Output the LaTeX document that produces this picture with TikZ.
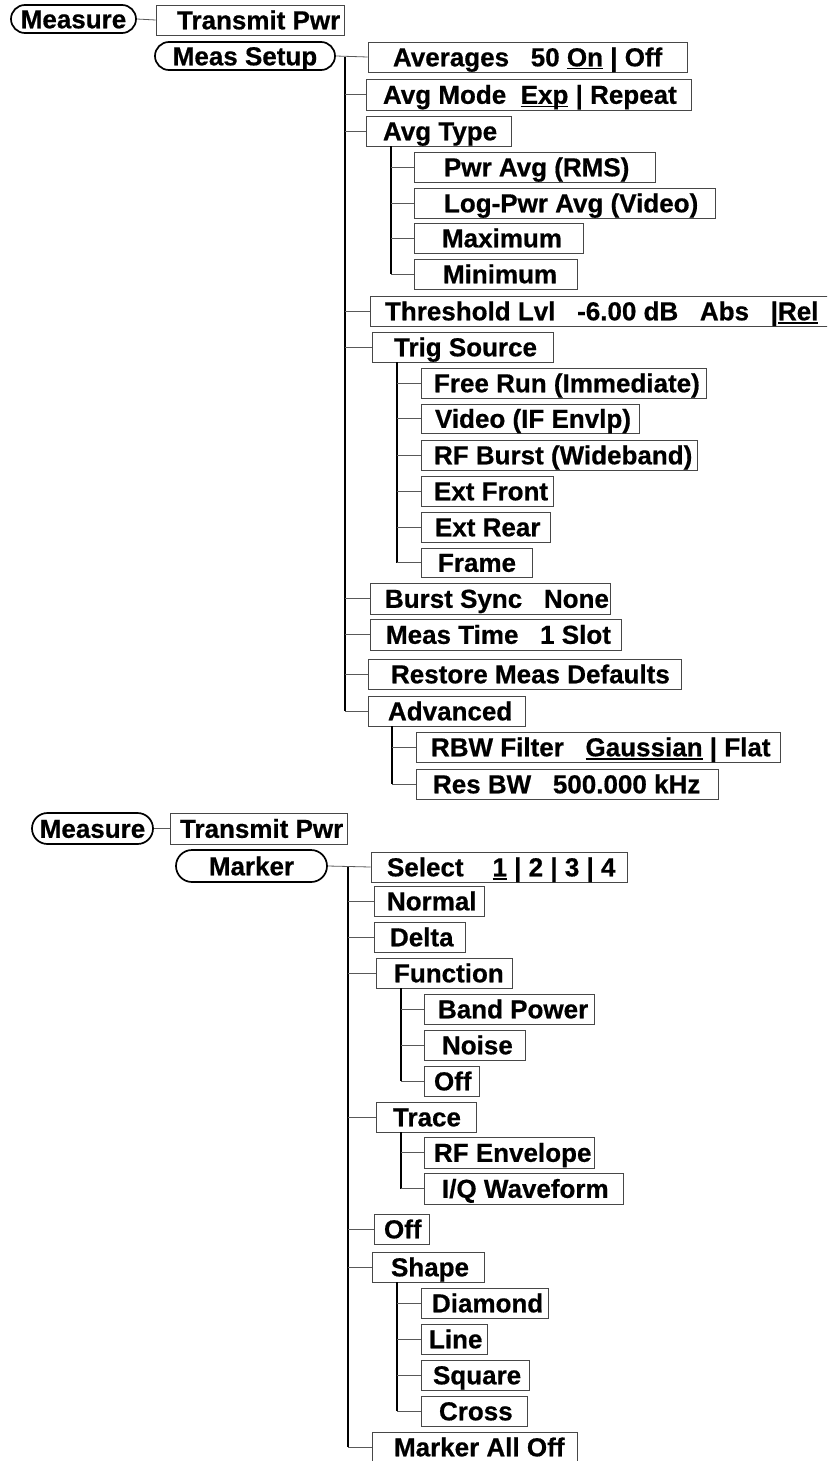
\documentclass[tikz,border=0pt]{standalone}
\usepackage{fontspec}
\setmainfont{Liberation Sans}[BoldFeatures={FakeBold=0.6}]
\usetikzlibrary{shapes.misc}
\tikzset{
  box/.style={draw=black!72, line width=0.9pt, inner sep=0pt, text height=18.6pt, text depth=0pt,
    font=\fontsize{26}{30}\selectfont\bfseries},
  pill/.style={rounded rectangle, draw=black, line width=1.7pt, inner sep=0pt, text height=18.6pt, text depth=0pt,
    font=\fontsize{26}{30}\selectfont\bfseries},
  br/.style={draw=black!65, line width=0.8pt},
  trunk/.style={draw=black, line width=1.6pt},
}
\newcommand{\myul}[1]{\setbox0\hbox{#1}\rlap{\rule[-3.2pt]{\wd0}{1.3pt}}\box0\relax}
\newcommand{\menubox}[7]{%
  \pgfmathsetmacro\mybw{#4-#2}\pgfmathsetmacro\mybh{#5-#3}%
  \node[box, minimum width=\mybw pt, minimum height=\mybh pt] (#1) at ({(#2+#4)/2},{(#3+#5)/2})
    {\makebox[\mybw pt][l]{\hspace{#6pt}#7}};}
\newcommand{\menupill}[6]{%
  \pgfmathsetmacro\mybw{#4-#2}\pgfmathsetmacro\mybh{#5-#3}%
  \node[pill, minimum width=\mybw pt, minimum height=\mybh pt] (#1) at ({(#2+#4)/2},{(#3+#5)/2}) {#6};}
\begin{document}
\begin{tikzpicture}[x=1pt,y=-1pt]
\useasboundingbox (0,0) rectangle (827,1461);
\clip (0,0) rectangle (827,1461);
\fill[white] (0,0) rectangle (827,1461);
% ---------- top section ----------
\menupill{meas1}{11}{5}{136}{33}{Measure}
\menubox{tp1}{156}{5}{344}{35}{21}{Transmit Pwr}
\menupill{ms}{155}{42}{335}{70}{Meas Setup}
\menubox{avg}{368}{42}{687}{72}{25}{Averages~~~50 \myul{On} | Off}
\menubox{avgmode}{366}{79}{691}{110}{17}{Avg Mode~~\myul{Exp} | Repeat}
\menubox{avgtype}{366}{116}{511}{146}{17}{Avg Type}
\menubox{pwr}{414}{152}{655}{182}{30}{Pwr Avg (RMS)}
\menubox{logpwr}{414}{188}{715}{218}{30}{Log-Pwr Avg (Video)}
\menubox{max}{414}{223}{583}{253}{28}{Maximum}
\menubox{min}{414}{259}{577}{289}{29}{Minimum}
\menubox{thr}{370}{296}{830}{326}{15}{Threshold Lvl~~~-6.00 dB~~~Abs~~~|\myul{Rel}}
\menubox{trig}{372}{332}{553}{362}{22}{Trig Source}
\menubox{free}{421}{368}{706}{398}{13}{Free Run (Immediate)}
\menubox{video}{421}{404}{639}{433}{14}{Video (IF Envlp)}
\menubox{rfb}{421}{440}{697}{470}{13}{RF Burst (Wideband)}
\menubox{extf}{421}{476}{553}{506}{13}{Ext Front}
\menubox{extr}{421}{512}{550}{542}{14}{Ext Rear}
\menubox{frame}{421}{548}{532}{577}{17}{Frame}
\menubox{burst}{370}{583}{610}{614}{15}{Burst Sync~~~None}
\menubox{meastime}{370}{619}{621}{650}{16}{Meas Time~~~1 Slot}
\menubox{restore}{368}{659}{681}{689}{23}{Restore Meas Defaults}
\menubox{adv}{368}{696}{525}{726}{20}{Advanced}
\menubox{rbw}{416}{732}{780}{762}{15}{RBW Filter~~~\myul{Gaussian} | Flat}
\menubox{resbw}{416}{769}{718}{799}{17}{Res BW~~~500.000 kHz}
% connectors top
\draw[br] (meas1.east) -- (tp1.west);
\draw[br] (ms.east) -- (avg.west);
\coordinate (t1) at (345,57);
\draw[trunk] (t1) -- (t1 |- adv.west);
\foreach \n in {avgmode,avgtype,thr,trig,burst,meastime,restore,adv}
  \draw[br] (t1 |- \n.west) -- (\n.west);
\coordinate (s1) at (391,146);
\draw[trunk] (s1) -- (s1 |- min.west);
\foreach \n in {pwr,logpwr,max,min}
  \draw[br] (s1 |- \n.west) -- (\n.west);
\coordinate (s2) at (397,362);
\draw[trunk] (s2) -- (s2 |- frame.west);
\foreach \n in {free,video,rfb,extf,extr,frame}
  \draw[br] (s2 |- \n.west) -- (\n.west);
\coordinate (s3) at (392,726);
\draw[trunk] (s3) -- (s3 |- resbw.west);
\foreach \n in {rbw,resbw}
  \draw[br] (s3 |- \n.west) -- (\n.west);
% ---------- bottom section ----------
\menupill{meas2}{32}{813}{153}{844}{Measure}
\menubox{tp2}{170}{813}{347}{844}{10}{Transmit Pwr}
\menupill{mk}{176}{850}{327}{882}{Marker}
\menubox{sel}{371}{852}{627}{882}{16}{Select~~~~\myul{1} | 2 | 3 | 4}
\menubox{normal}{374}{886}{484}{916}{13}{Normal}
\menubox{delta}{374}{922}{465}{952}{16}{Delta}
\menubox{func}{376}{958}{512}{988}{18}{Function}
\menubox{band}{424}{994}{594}{1024}{14}{Band Power}
\menubox{noise}{424}{1030}{525}{1060}{18}{Noise}
\menubox{offa}{424}{1066}{479}{1096}{10}{Off}
\menubox{trace}{376}{1102}{476}{1132}{17}{Trace}
\menubox{rfe}{424}{1137}{594}{1168}{10}{RF Envelope}
\menubox{iq}{424}{1173}{623}{1204}{18}{I/Q Waveform}
\menubox{offb}{374}{1214}{429}{1244}{10}{Off}
\menubox{shape}{372}{1252}{484}{1282}{19}{Shape}
\menubox{diamond}{421}{1288}{548}{1318}{11}{Diamond}
\menubox{line}{421}{1324}{487}{1354}{8}{Line}
\menubox{square}{421}{1360}{529}{1390}{12}{Square}
\menubox{cross}{421}{1396}{527}{1426}{18}{Cross}
\menubox{alloff}{372}{1432}{577}{1462}{22}{Marker All Off}
% connectors bottom
\draw[br] (meas2.east) -- (tp2.west);
\draw[br] (mk.east) -- (sel.west);
\coordinate (t2) at (348,867);
\draw[trunk] (t2) -- (t2 |- alloff.west);
\foreach \n in {normal,delta,func,trace,offb,shape,alloff}
  \draw[br] (t2 |- \n.west) -- (\n.west);
\coordinate (u1) at (401,988);
\draw[trunk] (u1) -- (u1 |- offa.west);
\foreach \n in {band,noise,offa}
  \draw[br] (u1 |- \n.west) -- (\n.west);
\coordinate (u2) at (401,1132);
\draw[trunk] (u2) -- (u2 |- iq.west);
\foreach \n in {rfe,iq}
  \draw[br] (u2 |- \n.west) -- (\n.west);
\coordinate (u3) at (397,1282);
\draw[trunk] (u3) -- (u3 |- cross.west);
\foreach \n in {diamond,line,square,cross}
  \draw[br] (u3 |- \n.west) -- (\n.west);
\end{tikzpicture}
\end{document}
